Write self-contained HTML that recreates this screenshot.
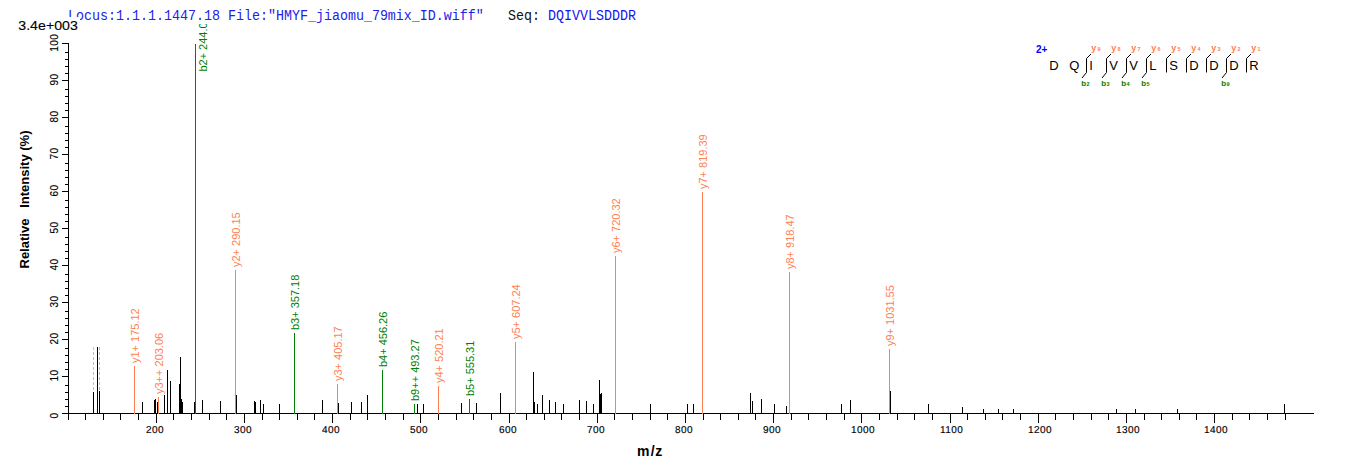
<!DOCTYPE html><html><head><meta charset="utf-8"><title>Spectrum</title>
<style>html,body{margin:0;padding:0;background:#fff}svg{display:block}text{font-family:"Liberation Sans",Arial,sans-serif}.m{font-family:"Liberation Mono","Courier New",monospace;font-size:13.33px}.c{shape-rendering:crispEdges}</style></head><body>
<svg width="1362" height="473" viewBox="0 0 1362 473">
<rect width="1362" height="473" fill="#fff"/>
<text transform="translate(207,71.6) rotate(-90)" font-size="11" font-weight="normal" fill="#008000" >b2+ 244.09</text>
<rect x="0" y="0" width="1362" height="24" fill="#fff"/>
<g transform="translate(0,20) scale(1,1.13)">
<text class="m" x="68" y="0" fill="#2222e6">Locus:1.1.1.1447.18 File:"HMYF_jiaomu_79mix_ID.wiff"</text>
<text class="m" x="508" y="0" fill="#111">Seq:</text>
<text class="m" x="548" y="0" fill="#1515f0">DQIVVLSDDDR</text>
</g>
<rect x="16" y="17" width="64" height="15" fill="#fff"/>
<text x="18.3" y="30" font-size="12.5" textLength="59.5" lengthAdjust="spacingAndGlyphs" stroke="#000" stroke-width="0.12" fill="#000">3.4e+003</text>
<rect class="c" x="68" y="43" width="1" height="371" fill="#000"/>
<rect class="c" x="62" y="413" width="1252" height="1" fill="#000"/>
<rect class="c" x="62" y="413" width="7" height="1" fill="#000"/>
<rect class="c" x="65" y="406" width="4" height="1" fill="#000"/>
<rect class="c" x="65" y="399" width="4" height="1" fill="#000"/>
<rect class="c" x="65" y="392" width="4" height="1" fill="#000"/>
<rect class="c" x="65" y="385" width="4" height="1" fill="#000"/>
<rect class="c" x="62" y="376" width="7" height="1" fill="#000"/>
<rect class="c" x="65" y="369" width="4" height="1" fill="#000"/>
<rect class="c" x="65" y="362" width="4" height="1" fill="#000"/>
<rect class="c" x="65" y="355" width="4" height="1" fill="#000"/>
<rect class="c" x="65" y="348" width="4" height="1" fill="#000"/>
<rect class="c" x="62" y="339" width="7" height="1" fill="#000"/>
<rect class="c" x="65" y="332" width="4" height="1" fill="#000"/>
<rect class="c" x="65" y="325" width="4" height="1" fill="#000"/>
<rect class="c" x="65" y="318" width="4" height="1" fill="#000"/>
<rect class="c" x="65" y="311" width="4" height="1" fill="#000"/>
<rect class="c" x="62" y="302" width="7" height="1" fill="#000"/>
<rect class="c" x="65" y="295" width="4" height="1" fill="#000"/>
<rect class="c" x="65" y="288" width="4" height="1" fill="#000"/>
<rect class="c" x="65" y="281" width="4" height="1" fill="#000"/>
<rect class="c" x="65" y="274" width="4" height="1" fill="#000"/>
<rect class="c" x="62" y="265" width="7" height="1" fill="#000"/>
<rect class="c" x="65" y="258" width="4" height="1" fill="#000"/>
<rect class="c" x="65" y="251" width="4" height="1" fill="#000"/>
<rect class="c" x="65" y="244" width="4" height="1" fill="#000"/>
<rect class="c" x="65" y="237" width="4" height="1" fill="#000"/>
<rect class="c" x="62" y="228" width="7" height="1" fill="#000"/>
<rect class="c" x="65" y="221" width="4" height="1" fill="#000"/>
<rect class="c" x="65" y="214" width="4" height="1" fill="#000"/>
<rect class="c" x="65" y="207" width="4" height="1" fill="#000"/>
<rect class="c" x="65" y="200" width="4" height="1" fill="#000"/>
<rect class="c" x="62" y="191" width="7" height="1" fill="#000"/>
<rect class="c" x="65" y="184" width="4" height="1" fill="#000"/>
<rect class="c" x="65" y="177" width="4" height="1" fill="#000"/>
<rect class="c" x="65" y="170" width="4" height="1" fill="#000"/>
<rect class="c" x="65" y="163" width="4" height="1" fill="#000"/>
<rect class="c" x="62" y="154" width="7" height="1" fill="#000"/>
<rect class="c" x="65" y="147" width="4" height="1" fill="#000"/>
<rect class="c" x="65" y="140" width="4" height="1" fill="#000"/>
<rect class="c" x="65" y="133" width="4" height="1" fill="#000"/>
<rect class="c" x="65" y="126" width="4" height="1" fill="#000"/>
<rect class="c" x="62" y="117" width="7" height="1" fill="#000"/>
<rect class="c" x="65" y="110" width="4" height="1" fill="#000"/>
<rect class="c" x="65" y="103" width="4" height="1" fill="#000"/>
<rect class="c" x="65" y="96" width="4" height="1" fill="#000"/>
<rect class="c" x="65" y="89" width="4" height="1" fill="#000"/>
<rect class="c" x="62" y="80" width="7" height="1" fill="#000"/>
<rect class="c" x="65" y="73" width="4" height="1" fill="#000"/>
<rect class="c" x="65" y="66" width="4" height="1" fill="#000"/>
<rect class="c" x="65" y="59" width="4" height="1" fill="#000"/>
<rect class="c" x="65" y="52" width="4" height="1" fill="#000"/>
<rect class="c" x="62" y="43" width="7" height="1" fill="#000"/>
<text transform="translate(58,418.6) rotate(-90)" font-size="10" letter-spacing="0.44" stroke="#000" stroke-width="0.15" fill="#000">0</text>
<text transform="translate(58,381.6) rotate(-90)" font-size="10" letter-spacing="0.44" stroke="#000" stroke-width="0.15" fill="#000">10</text>
<text transform="translate(58,344.6) rotate(-90)" font-size="10" letter-spacing="0.44" stroke="#000" stroke-width="0.15" fill="#000">20</text>
<text transform="translate(58,307.6) rotate(-90)" font-size="10" letter-spacing="0.44" stroke="#000" stroke-width="0.15" fill="#000">30</text>
<text transform="translate(58,270.6) rotate(-90)" font-size="10" letter-spacing="0.44" stroke="#000" stroke-width="0.15" fill="#000">40</text>
<text transform="translate(58,233.6) rotate(-90)" font-size="10" letter-spacing="0.44" stroke="#000" stroke-width="0.15" fill="#000">50</text>
<text transform="translate(58,196.6) rotate(-90)" font-size="10" letter-spacing="0.44" stroke="#000" stroke-width="0.15" fill="#000">60</text>
<text transform="translate(58,159.6) rotate(-90)" font-size="10" letter-spacing="0.44" stroke="#000" stroke-width="0.15" fill="#000">70</text>
<text transform="translate(58,122.6) rotate(-90)" font-size="10" letter-spacing="0.44" stroke="#000" stroke-width="0.15" fill="#000">80</text>
<text transform="translate(58,85.6) rotate(-90)" font-size="10" letter-spacing="0.44" stroke="#000" stroke-width="0.15" fill="#000">90</text>
<text transform="translate(58,51.7) rotate(-90)" font-size="10" letter-spacing="0.44" stroke="#000" stroke-width="0.15" fill="#000">100</text>
<rect class="c" x="68" y="413" width="1" height="7" fill="#000"/>
<rect class="c" x="85" y="413" width="1" height="7" fill="#000"/>
<rect class="c" x="103" y="413" width="1" height="7" fill="#000"/>
<rect class="c" x="120" y="413" width="1" height="7" fill="#000"/>
<rect class="c" x="138" y="413" width="1" height="7" fill="#000"/>
<rect class="c" x="156" y="413" width="1" height="10" fill="#000"/>
<text x="146" y="433" font-size="10" letter-spacing="0.44" style="text-rendering:geometricPrecision" stroke="#000" stroke-width="0.15" fill="#000">200</text>
<rect class="c" x="173" y="413" width="1" height="7" fill="#000"/>
<rect class="c" x="191" y="413" width="1" height="7" fill="#000"/>
<rect class="c" x="209" y="413" width="1" height="7" fill="#000"/>
<rect class="c" x="226" y="413" width="1" height="7" fill="#000"/>
<rect class="c" x="244" y="413" width="1" height="10" fill="#000"/>
<text x="234" y="433" font-size="10" letter-spacing="0.44" style="text-rendering:geometricPrecision" stroke="#000" stroke-width="0.15" fill="#000">300</text>
<rect class="c" x="262" y="413" width="1" height="7" fill="#000"/>
<rect class="c" x="279" y="413" width="1" height="7" fill="#000"/>
<rect class="c" x="297" y="413" width="1" height="7" fill="#000"/>
<rect class="c" x="314" y="413" width="1" height="7" fill="#000"/>
<rect class="c" x="332" y="413" width="1" height="10" fill="#000"/>
<text x="322" y="433" font-size="10" letter-spacing="0.44" style="text-rendering:geometricPrecision" stroke="#000" stroke-width="0.15" fill="#000">400</text>
<rect class="c" x="350" y="413" width="1" height="7" fill="#000"/>
<rect class="c" x="367" y="413" width="1" height="7" fill="#000"/>
<rect class="c" x="385" y="413" width="1" height="7" fill="#000"/>
<rect class="c" x="403" y="413" width="1" height="7" fill="#000"/>
<rect class="c" x="420" y="413" width="1" height="10" fill="#000"/>
<text x="410" y="433" font-size="10" letter-spacing="0.44" style="text-rendering:geometricPrecision" stroke="#000" stroke-width="0.15" fill="#000">500</text>
<rect class="c" x="438" y="413" width="1" height="7" fill="#000"/>
<rect class="c" x="456" y="413" width="1" height="7" fill="#000"/>
<rect class="c" x="473" y="413" width="1" height="7" fill="#000"/>
<rect class="c" x="491" y="413" width="1" height="7" fill="#000"/>
<rect class="c" x="509" y="413" width="1" height="10" fill="#000"/>
<text x="499" y="433" font-size="10" letter-spacing="0.44" style="text-rendering:geometricPrecision" stroke="#000" stroke-width="0.15" fill="#000">600</text>
<rect class="c" x="526" y="413" width="1" height="7" fill="#000"/>
<rect class="c" x="544" y="413" width="1" height="7" fill="#000"/>
<rect class="c" x="561" y="413" width="1" height="7" fill="#000"/>
<rect class="c" x="579" y="413" width="1" height="7" fill="#000"/>
<rect class="c" x="597" y="413" width="1" height="10" fill="#000"/>
<text x="587" y="433" font-size="10" letter-spacing="0.44" style="text-rendering:geometricPrecision" stroke="#000" stroke-width="0.15" fill="#000">700</text>
<rect class="c" x="614" y="413" width="1" height="7" fill="#000"/>
<rect class="c" x="632" y="413" width="1" height="7" fill="#000"/>
<rect class="c" x="650" y="413" width="1" height="7" fill="#000"/>
<rect class="c" x="667" y="413" width="1" height="7" fill="#000"/>
<rect class="c" x="685" y="413" width="1" height="10" fill="#000"/>
<text x="675" y="433" font-size="10" letter-spacing="0.44" style="text-rendering:geometricPrecision" stroke="#000" stroke-width="0.15" fill="#000">800</text>
<rect class="c" x="703" y="413" width="1" height="7" fill="#000"/>
<rect class="c" x="720" y="413" width="1" height="7" fill="#000"/>
<rect class="c" x="738" y="413" width="1" height="7" fill="#000"/>
<rect class="c" x="755" y="413" width="1" height="7" fill="#000"/>
<rect class="c" x="773" y="413" width="1" height="10" fill="#000"/>
<text x="763" y="433" font-size="10" letter-spacing="0.44" style="text-rendering:geometricPrecision" stroke="#000" stroke-width="0.15" fill="#000">900</text>
<rect class="c" x="791" y="413" width="1" height="7" fill="#000"/>
<rect class="c" x="808" y="413" width="1" height="7" fill="#000"/>
<rect class="c" x="826" y="413" width="1" height="7" fill="#000"/>
<rect class="c" x="844" y="413" width="1" height="7" fill="#000"/>
<rect class="c" x="861" y="413" width="1" height="10" fill="#000"/>
<text x="851" y="433" font-size="10" letter-spacing="0.44" style="text-rendering:geometricPrecision" stroke="#000" stroke-width="0.15" fill="#000">1000</text>
<rect class="c" x="879" y="413" width="1" height="7" fill="#000"/>
<rect class="c" x="897" y="413" width="1" height="7" fill="#000"/>
<rect class="c" x="914" y="413" width="1" height="7" fill="#000"/>
<rect class="c" x="932" y="413" width="1" height="7" fill="#000"/>
<rect class="c" x="950" y="413" width="1" height="10" fill="#000"/>
<text x="940" y="433" font-size="10" letter-spacing="0.44" style="text-rendering:geometricPrecision" stroke="#000" stroke-width="0.15" fill="#000">1100</text>
<rect class="c" x="967" y="413" width="1" height="7" fill="#000"/>
<rect class="c" x="985" y="413" width="1" height="7" fill="#000"/>
<rect class="c" x="1002" y="413" width="1" height="7" fill="#000"/>
<rect class="c" x="1020" y="413" width="1" height="7" fill="#000"/>
<rect class="c" x="1038" y="413" width="1" height="10" fill="#000"/>
<text x="1028" y="433" font-size="10" letter-spacing="0.44" style="text-rendering:geometricPrecision" stroke="#000" stroke-width="0.15" fill="#000">1200</text>
<rect class="c" x="1055" y="413" width="1" height="7" fill="#000"/>
<rect class="c" x="1073" y="413" width="1" height="7" fill="#000"/>
<rect class="c" x="1091" y="413" width="1" height="7" fill="#000"/>
<rect class="c" x="1108" y="413" width="1" height="7" fill="#000"/>
<rect class="c" x="1126" y="413" width="1" height="10" fill="#000"/>
<text x="1116" y="433" font-size="10" letter-spacing="0.44" style="text-rendering:geometricPrecision" stroke="#000" stroke-width="0.15" fill="#000">1300</text>
<rect class="c" x="1144" y="413" width="1" height="7" fill="#000"/>
<rect class="c" x="1161" y="413" width="1" height="7" fill="#000"/>
<rect class="c" x="1179" y="413" width="1" height="7" fill="#000"/>
<rect class="c" x="1196" y="413" width="1" height="7" fill="#000"/>
<rect class="c" x="1214" y="413" width="1" height="10" fill="#000"/>
<text x="1204" y="433" font-size="10" letter-spacing="0.44" style="text-rendering:geometricPrecision" stroke="#000" stroke-width="0.15" fill="#000">1400</text>
<rect class="c" x="1232" y="413" width="1" height="7" fill="#000"/>
<rect class="c" x="1249" y="413" width="1" height="7" fill="#000"/>
<rect class="c" x="1267" y="413" width="1" height="7" fill="#000"/>
<rect class="c" x="1285" y="413" width="1" height="7" fill="#000"/>
<text x="637 650.8 655.3" y="456" font-size="14" font-weight="bold" fill="#000">m/z</text>
<text transform="translate(29,268.5) rotate(-90)" font-size="13" font-weight="bold" fill="#000" xml:space="preserve">Relative   Intensity (%)</text>
<rect class="c" x="93" y="392" width="1" height="22" fill="#000"/>
<rect class="c" x="97" y="347" width="1" height="67" fill="#000"/>
<rect class="c" x="99" y="391" width="1" height="23" fill="#000"/>
<rect class="c" x="142" y="402" width="1" height="12" fill="#000"/>
<rect class="c" x="154" y="400" width="1" height="14" fill="#000"/>
<rect class="c" x="155" y="399" width="1" height="15" fill="#000"/>
<rect class="c" x="157" y="402" width="1" height="12" fill="#000"/>
<rect class="c" x="164" y="395" width="1" height="19" fill="#000"/>
<rect class="c" x="167" y="370" width="1" height="44" fill="#000"/>
<rect class="c" x="170" y="381" width="1" height="33" fill="#000"/>
<rect class="c" x="179" y="384" width="1" height="30" fill="#000"/>
<rect class="c" x="180" y="357" width="1" height="57" fill="#000"/>
<rect class="c" x="181" y="399" width="1" height="15" fill="#000"/>
<rect class="c" x="182" y="402" width="1" height="12" fill="#000"/>
<rect class="c" x="194" y="402" width="1" height="12" fill="#000"/>
<rect class="c" x="202" y="400" width="1" height="14" fill="#000"/>
<rect class="c" x="220" y="401" width="1" height="13" fill="#000"/>
<rect class="c" x="236" y="395" width="1" height="19" fill="#000"/>
<rect class="c" x="254" y="401" width="1" height="13" fill="#000"/>
<rect class="c" x="255" y="402" width="1" height="12" fill="#000"/>
<rect class="c" x="260" y="400" width="1" height="14" fill="#000"/>
<rect class="c" x="263" y="404" width="1" height="10" fill="#000"/>
<rect class="c" x="279" y="404" width="1" height="10" fill="#000"/>
<rect class="c" x="322" y="400" width="1" height="14" fill="#000"/>
<rect class="c" x="338" y="403" width="1" height="11" fill="#000"/>
<rect class="c" x="351" y="402" width="1" height="12" fill="#000"/>
<rect class="c" x="361" y="402" width="1" height="12" fill="#000"/>
<rect class="c" x="367" y="395" width="1" height="19" fill="#000"/>
<rect class="c" x="417" y="404" width="1" height="10" fill="#000"/>
<rect class="c" x="423" y="404" width="1" height="10" fill="#000"/>
<rect class="c" x="461" y="403" width="1" height="11" fill="#000"/>
<rect class="c" x="476" y="403" width="1" height="11" fill="#000"/>
<rect class="c" x="500" y="393" width="1" height="21" fill="#000"/>
<rect class="c" x="533" y="372" width="1" height="42" fill="#000"/>
<rect class="c" x="534" y="402" width="1" height="12" fill="#000"/>
<rect class="c" x="537" y="404" width="1" height="10" fill="#000"/>
<rect class="c" x="542" y="395" width="1" height="19" fill="#000"/>
<rect class="c" x="549" y="400" width="1" height="14" fill="#000"/>
<rect class="c" x="555" y="402" width="1" height="12" fill="#000"/>
<rect class="c" x="563" y="404" width="1" height="10" fill="#000"/>
<rect class="c" x="579" y="400" width="1" height="14" fill="#000"/>
<rect class="c" x="586" y="401" width="1" height="13" fill="#000"/>
<rect class="c" x="593" y="404" width="1" height="10" fill="#000"/>
<rect class="c" x="599" y="380" width="1" height="34" fill="#000"/>
<rect class="c" x="600" y="394" width="1" height="20" fill="#000"/>
<rect class="c" x="601" y="393" width="1" height="21" fill="#000"/>
<rect class="c" x="650" y="404" width="1" height="10" fill="#000"/>
<rect class="c" x="687" y="404" width="1" height="10" fill="#000"/>
<rect class="c" x="693" y="404" width="1" height="10" fill="#000"/>
<rect class="c" x="750" y="393" width="1" height="21" fill="#000"/>
<rect class="c" x="752" y="401" width="1" height="13" fill="#000"/>
<rect class="c" x="761" y="399" width="1" height="15" fill="#000"/>
<rect class="c" x="774" y="404" width="1" height="10" fill="#000"/>
<rect class="c" x="786" y="406" width="1" height="8" fill="#000"/>
<rect class="c" x="841" y="404" width="1" height="10" fill="#000"/>
<rect class="c" x="850" y="400" width="1" height="14" fill="#000"/>
<rect class="c" x="890" y="391" width="1" height="23" fill="#000"/>
<rect class="c" x="928" y="404" width="1" height="10" fill="#000"/>
<rect class="c" x="962" y="407" width="1" height="7" fill="#000"/>
<rect class="c" x="983" y="409" width="1" height="5" fill="#000"/>
<rect class="c" x="998" y="409" width="1" height="5" fill="#000"/>
<rect class="c" x="1013" y="409" width="1" height="5" fill="#000"/>
<rect class="c" x="1116" y="409" width="1" height="5" fill="#000"/>
<rect class="c" x="1135" y="409" width="1" height="5" fill="#000"/>
<rect class="c" x="1177" y="409" width="1" height="5" fill="#000"/>
<rect class="c" x="1284" y="404" width="1" height="10" fill="#000"/>
<line class="c" x1="93.5" y1="347" x2="93.5" y2="392" stroke="#bdbdbd" stroke-width="1" stroke-dasharray="3 2"/>
<line class="c" x1="99.5" y1="347" x2="99.5" y2="391" stroke="#bdbdbd" stroke-width="1" stroke-dasharray="3 2"/>
<rect class="c" x="134" y="366" width="1" height="48" fill="#ff7f50"/>
<text transform="translate(139,363) rotate(-90)" font-size="11" font-weight="normal" fill="#ff7f50" >y1+ 175.12</text>
<rect class="c" x="158" y="397" width="1" height="17" fill="#ff7f50"/>
<text transform="translate(163,394) rotate(-90)" font-size="11" font-weight="normal" fill="#ff7f50" >y3++ 203.06</text>
<rect class="c" x="195" y="44" width="1" height="370" fill="#008000"/>
<rect class="c" x="235" y="270" width="1" height="144" fill="#ff7f50"/>
<text transform="translate(240,267) rotate(-90)" font-size="11" font-weight="normal" fill="#ff7f50" >y2+ 290.15</text>
<rect class="c" x="294" y="333" width="1" height="81" fill="#008000"/>
<text transform="translate(299,330) rotate(-90)" font-size="11" font-weight="normal" fill="#008000" >b3+ 357.18</text>
<rect class="c" x="337" y="384" width="1" height="30" fill="#ff7f50"/>
<text transform="translate(342,381) rotate(-90)" font-size="11" font-weight="normal" fill="#ff7f50" >y3+ 405.17</text>
<rect class="c" x="382" y="370" width="1" height="44" fill="#008000"/>
<text transform="translate(387,367) rotate(-90)" font-size="11" font-weight="normal" fill="#008000" >b4+ 456.26</text>
<rect class="c" x="414" y="404" width="1" height="10" fill="#008000"/>
<text transform="translate(419,401) rotate(-90)" font-size="11" font-weight="normal" fill="#008000" >b9++ 493.27</text>
<rect class="c" x="438" y="386" width="1" height="28" fill="#ff7f50"/>
<text transform="translate(443,383) rotate(-90)" font-size="11" font-weight="normal" fill="#ff7f50" >y4+ 520.21</text>
<rect class="c" x="469" y="399" width="1" height="15" fill="#008000"/>
<text transform="translate(474,396) rotate(-90)" font-size="11" font-weight="normal" fill="#008000" >b5+ 555.31</text>
<rect class="c" x="515" y="342" width="1" height="72" fill="#ff7f50"/>
<text transform="translate(520,339) rotate(-90)" font-size="11" font-weight="normal" fill="#ff7f50" >y5+ 607.24</text>
<rect class="c" x="615" y="256" width="1" height="158" fill="#ff7f50"/>
<text transform="translate(620,253) rotate(-90)" font-size="11" font-weight="normal" fill="#ff7f50" >y6+ 720.32</text>
<rect class="c" x="702" y="192" width="1" height="222" fill="#ff7f50"/>
<text transform="translate(707,189) rotate(-90)" font-size="11" font-weight="normal" fill="#ff7f50" >y7+ 819.39</text>
<rect class="c" x="789" y="272" width="1" height="142" fill="#ff7f50"/>
<text transform="translate(794,269) rotate(-90)" font-size="11" font-weight="normal" fill="#ff7f50" >y8+ 918.47</text>
<rect class="c" x="889" y="349" width="1" height="65" fill="#ff7f50"/>
<text transform="translate(894,346) rotate(-90)" font-size="11" font-weight="normal" fill="#ff7f50" >y9+ 1031.55</text>
<text x="1036" y="53" font-size="10" font-weight="bold" fill="#0000ff">2+</text>
<text x="1049.3" y="70" font-size="13" fill="#000">D</text>
<text x="1069.3" y="70" font-size="13" fill="#000">Q</text>
<text x="1089.3" y="70" font-size="13" fill="#000">I</text>
<text x="1109.3" y="70" font-size="13" fill="#000">V</text>
<text x="1129.3" y="70" font-size="13" fill="#000">V</text>
<text x="1149.3" y="70" font-size="13" fill="#000">L</text>
<text x="1169.3" y="70" font-size="13" fill="#000">S</text>
<text x="1189.3" y="70" font-size="13" fill="#000">D</text>
<text x="1209.3" y="70" font-size="13" fill="#000">D</text>
<text x="1229.3" y="70" font-size="13" fill="#000">D</text>
<text x="1249.3" y="70" font-size="13" fill="#000">R</text>
<polyline points="1091.0,54 1086.5,58.5 1086.5,72.5 1082.0,78" fill="none" stroke="#000" stroke-width="1"/>
<text x="1091.2" y="50.5" font-size="9" font-weight="bold" fill="#ff7f50">y<tspan font-size="5.5" dx="1.3">9</tspan></text>
<text x="1081.2" y="85.7" font-size="8" font-weight="bold" fill="#008000">b<tspan font-size="5.5" dx="0.4">2</tspan></text>
<polyline points="1111.0,54 1106.5,58.5 1106.5,72.5 1102.0,78" fill="none" stroke="#000" stroke-width="1"/>
<text x="1111.2" y="50.5" font-size="9" font-weight="bold" fill="#ff7f50">y<tspan font-size="5.5" dx="1.3">8</tspan></text>
<text x="1101.2" y="85.7" font-size="8" font-weight="bold" fill="#008000">b<tspan font-size="5.5" dx="0.4">3</tspan></text>
<polyline points="1131.0,54 1126.5,58.5 1126.5,72.5 1122.0,78" fill="none" stroke="#000" stroke-width="1"/>
<text x="1131.2" y="50.5" font-size="9" font-weight="bold" fill="#ff7f50">y<tspan font-size="5.5" dx="1.3">7</tspan></text>
<text x="1121.2" y="85.7" font-size="8" font-weight="bold" fill="#008000">b<tspan font-size="5.5" dx="0.4">4</tspan></text>
<polyline points="1151.0,54 1146.5,58.5 1146.5,72.5 1142.0,78" fill="none" stroke="#000" stroke-width="1"/>
<text x="1151.2" y="50.5" font-size="9" font-weight="bold" fill="#ff7f50">y<tspan font-size="5.5" dx="1.3">6</tspan></text>
<text x="1141.2" y="85.7" font-size="8" font-weight="bold" fill="#008000">b<tspan font-size="5.5" dx="0.4">5</tspan></text>
<polyline points="1171.0,54 1166.5,58.5 1166.5,72.5" fill="none" stroke="#000" stroke-width="1"/>
<text x="1171.2" y="50.5" font-size="9" font-weight="bold" fill="#ff7f50">y<tspan font-size="5.5" dx="1.3">5</tspan></text>
<polyline points="1191.0,54 1186.5,58.5 1186.5,72.5" fill="none" stroke="#000" stroke-width="1"/>
<text x="1191.2" y="50.5" font-size="9" font-weight="bold" fill="#ff7f50">y<tspan font-size="5.5" dx="1.3">4</tspan></text>
<polyline points="1211.0,54 1206.5,58.5 1206.5,72.5" fill="none" stroke="#000" stroke-width="1"/>
<text x="1211.2" y="50.5" font-size="9" font-weight="bold" fill="#ff7f50">y<tspan font-size="5.5" dx="1.3">3</tspan></text>
<polyline points="1231.0,54 1226.5,58.5 1226.5,72.5 1222.0,78" fill="none" stroke="#000" stroke-width="1"/>
<text x="1231.2" y="50.5" font-size="9" font-weight="bold" fill="#ff7f50">y<tspan font-size="5.5" dx="1.3">2</tspan></text>
<text x="1221.2" y="85.7" font-size="8" font-weight="bold" fill="#008000">b<tspan font-size="5.5" dx="0.4">9</tspan></text>
<polyline points="1251.0,54 1246.5,58.5 1246.5,72.5" fill="none" stroke="#000" stroke-width="1"/>
<text x="1251.2" y="50.5" font-size="9" font-weight="bold" fill="#ff7f50">y<tspan font-size="5.5" dx="1.3">1</tspan></text>
</svg></body></html>
